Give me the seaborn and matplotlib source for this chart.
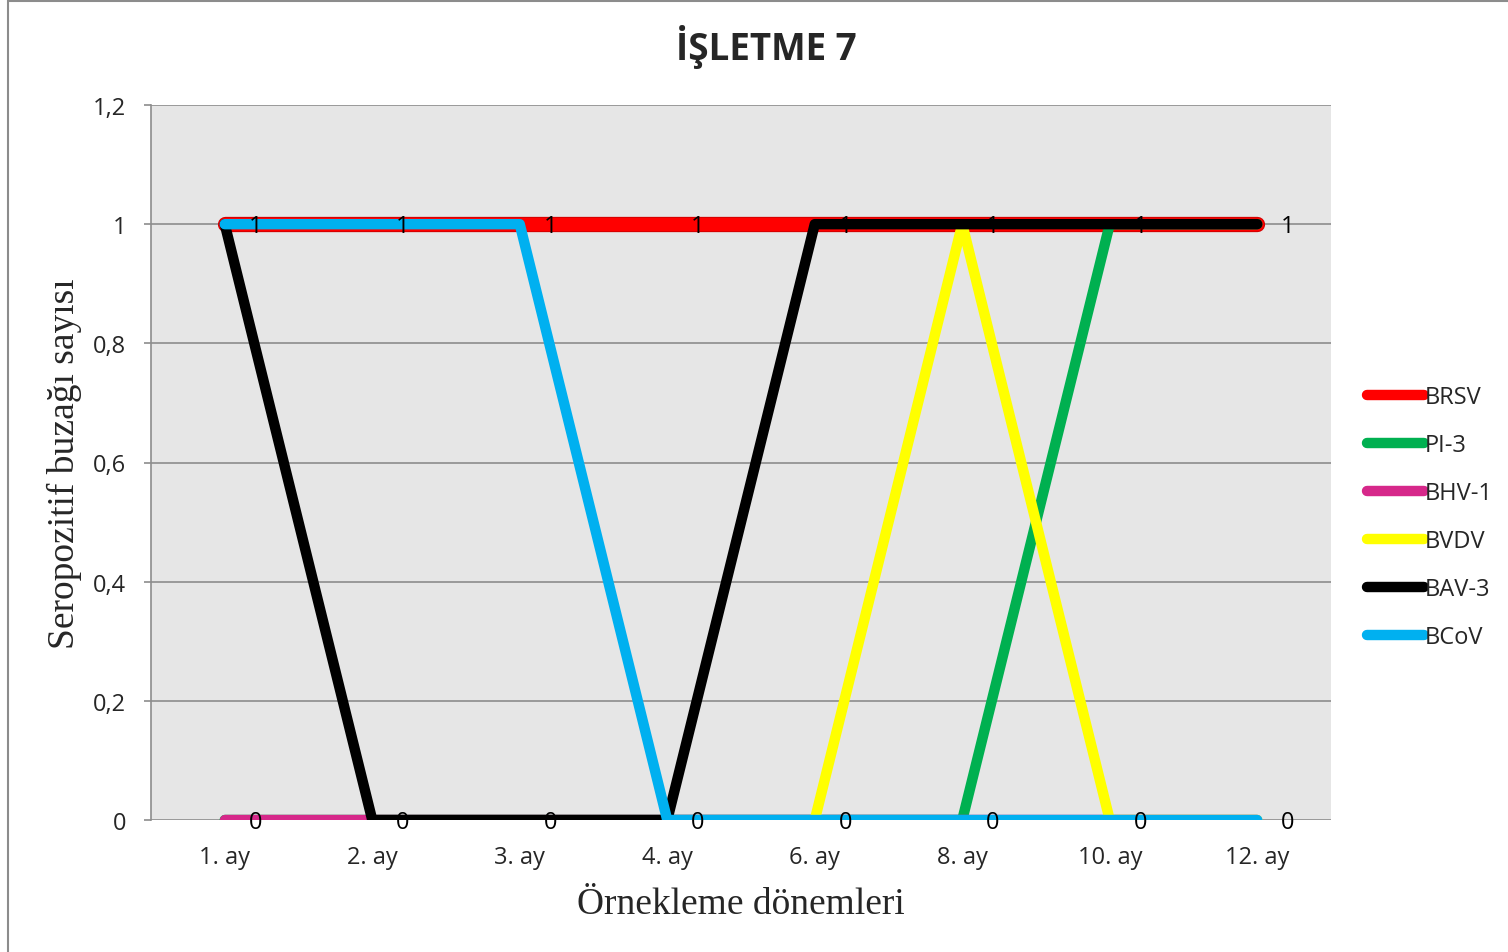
import pandas as pd
import matplotlib
matplotlib.use("Agg")
import matplotlib.pyplot as plt
import matplotlib.patheffects as pe
from matplotlib.patches import Rectangle
import seaborn as sns

# ==============================
# DATOS
# ==============================

nan = float("nan")

donemler = ["1. ay", "2. ay", "3. ay", "4. ay", "6. ay", "8. ay", "10. ay", "12. ay"]
seriler = ["BRSV", "PI-3", "BHV-1", "BVDV", "BAV-3", "BCoV"]

brsv = [1, 1, 1, 1, 1, 1, 1, 1]
pi3 = [0, 0, 0, 0, 0, 0, 1, 1]
bhv1 = [0, 0, 0, 0, 0, 0, 0, 0]
bvdv = [nan, nan, nan, nan, 0, 1, 0, 0]
bav3 = [1, 0, 0, 0, 1, 1, 1, 1]
bcov = [1, 1, 1, 0, 0, 0, 0, 0]

y_ticks = [0, 0.2, 0.4, 0.6, 0.8, 1, 1.2]
y_tick_labels = ["0", "0,2", "0,4", "0,6", "0,8", "1", "1,2"]

renkler = {
    "BRSV": "#ff0000",
    "PI-3": "#00b050",
    "BHV-1": "#d6288a",
    "BVDV": "#ffff00",
    "BAV-3": "#000000",
    "BCoV": "#00b0f0",
}

# ==============================
# TABLA LARGA
# ==============================

valores = {"BRSV": brsv, "PI-3": pi3, "BHV-1": bhv1, "BVDV": bvdv, "BAV-3": bav3, "BCoV": bcov}
filas = []
for s in seriler:
    for i, d in enumerate(donemler):
        filas.append({"idx": i, "donem": d, "seri": s, "deger": valores[s][i]})
df = pd.DataFrame(filas)

# ==============================
# GRÁFICO
# ==============================

sns.set_style("white")
plt.rcParams["font.family"] = ["Open Sans", "DejaVu Sans"]

fig = plt.figure(figsize=(15.08, 9.53), dpi=100)
ax = fig.add_axes([151 / 1508, 1 - 821 / 953, 1180 / 1508, 715 / 953])
ax.set_facecolor("#e6e6e6")

sns.lineplot(data=df, x="idx", y="deger", hue="seri", hue_order=seriler,
             palette=renkler, sort=False, linewidth=7.5, ax=ax, legend=True,
             solid_capstyle="round", solid_joinstyle="round")

lines = [l for l in ax.get_lines() if len(l.get_xdata()) > 0]
for l in lines:
    l.set_zorder(3)
brsv_line = lines[0]
brsv_line.set_linewidth(9.5)
brsv_line.set_path_effects([pe.Stroke(linewidth=11, foreground="#d40000"), pe.Normal()])

# etiquetas de datos (BRSV y BHV-1)
for i in range(len(donemler)):
    ax.annotate(str(brsv[i]), (i, brsv[i]), xytext=(22, -1.5), textcoords="offset points",
                ha="center", va="center", fontsize=17, color="black", zorder=5)
    ax.annotate(str(bhv1[i]), (i, bhv1[i]), xytext=(22, -1.5), textcoords="offset points",
                ha="center", va="center", fontsize=17, color="black", zorder=5)

ax.set_xlim(-0.5, len(donemler) - 0.5)
ax.set_ylim(0, 1.2)
ax.set_xticks(range(len(donemler)))
ax.set_xticklabels(donemler, fontsize=17)
ax.set_yticks(y_ticks)
ax.set_yticklabels(y_tick_labels, fontsize=17)
ax.tick_params(axis="x", length=0, pad=18)
ax.tick_params(axis="y", length=5, width=1.2, color="#8c8c8c", pad=13, left=True)
ax.grid(axis="y", color="#8c8c8c", linewidth=1.2, zorder=1)
ax.set_axisbelow(True)
for side in ["top", "right", "bottom"]:
    ax.spines[side].set_visible(False)
ax.spines["left"].set_color("#8c8c8c")
ax.spines["left"].set_linewidth(1.2)

ax.set_xlabel("Örnekleme dönemleri", fontsize=27, family="Liberation Serif")
ax.xaxis.set_label_coords(0.5, -0.117)
ax.xaxis.label.set_va("center")
ax.set_ylabel("Seropozitif buzağı sayısı", fontsize=27, family="Liberation Serif")
ax.yaxis.set_label_coords(-0.073, 0.5)
ax.yaxis.label.set_va("center")

fig.text(766 / 1508, 1 - 47 / 953, "İŞLETME 7", ha="center", va="center",
         fontsize=26.5, fontweight="bold")

leg = ax.legend(loc="center left", bbox_to_anchor=(1367 / 1508, 1 - 518 / 953),
                bbox_transform=fig.transFigure, frameon=False, fontsize=17,
                handlelength=2.4, handletextpad=0.05, labelspacing=1.02,
                borderpad=0, borderaxespad=0)
for h in leg.legend_handles:
    h.set_linewidth(7.5)
    h.set_solid_capstyle("round")
    h.set_dash_capstyle("round")

# marco exterior del gráfico
fig.add_artist(Rectangle((8 / 1508, -0.05), 1.2, 1 - 1.5 / 953 + 0.05,
                         transform=fig.transFigure, fill=False,
                         edgecolor="#8c8c8c", linewidth=1.5))

fig.savefig("out.png", dpi=100)
